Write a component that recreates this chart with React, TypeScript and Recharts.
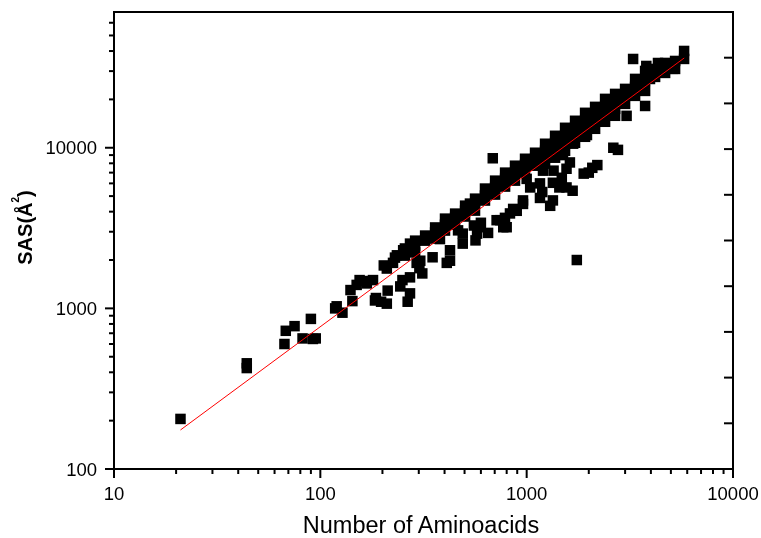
import { Scatter, ScatterChart, XAxis, YAxis } from "recharts";

const FONT = '"Liberation Sans", Arial, Helvetica, sans-serif';

// log ticks (major + minor)
const X_TICKS = [10, 20, 30, 40, 50, 60, 70, 80, 90, 100, 200, 300, 400, 500, 600, 700, 800, 900, 1000, 2000, 3000, 4000, 5000, 6000, 7000, 8000, 9000, 10000];
const X_MAJOR = [10, 100, 1000, 10000];
const Y_TICKS = [100, 200, 300, 400, 500, 600, 700, 800, 900, 1000, 2000, 3000, 4000, 5000, 6000, 7000, 8000, 9000, 10000, 20000, 30000, 40000, 50000, 60000];
const Y_MAJOR = [100, 1000, 10000];
// plain ticks on the top / right frame
const FRAME_TICKS = [1, 2, 3, 4, 5, 6, 7, 8, 9];

// [aminoacids, SAS]
const SMALL_PROTEINS: [number, number][] = [
  [21, 205], [44, 455], [44, 425], [67, 600], [68, 725], [75, 775], [82, 650], [90, 860], [92, 645], [95, 650],
  [118, 1000], [120, 1030], [128, 940], [140, 1300], [143, 1110], [150, 1400], [155, 1500], [161, 1480], [168, 1430], [180, 1500],
  [184, 1120], [186, 1160], [197, 1100], [210, 1070], [212, 1290], [203, 1850], [210, 1770], [225, 1920], [235, 2140], [244, 1370],
  [250, 1500], [252, 2300], [265, 1100], [272, 1240], [272, 1560], [293, 1920], [302, 1780], [312, 1650], [330, 2760],
];

const MAIN_BAND: [number, number][] = [
  [230, 2070], [257, 2360], [257, 2130], [272, 2530], [288, 2640], [288, 2460], [288, 2230], [322, 2840], [322, 2640],
  [360, 3190], [360, 2970], [360, 2720], [402, 3620], [402, 3320], [402, 3050], [450, 3890], [450, 3680], [450, 3320],
  [503, 4360], [503, 4060], [503, 3730], [531, 4490], [562, 4820], [562, 4490], [562, 4060], [628, 5570], [628, 5040], [628, 4690],
  [664, 5250], [703, 6240], [703, 5650], [703, 5110], [786, 7000], [786, 6420], [786, 5730], [830, 6600], [878, 7730], [878, 7000], [878, 6240],
  [982, 8540], [982, 7850], [982, 7000], [1040, 8100], [1098, 9310], [1098, 8540], [1098, 7730],
  [1228, 10590], [1228, 9580], [1228, 8670], [1228, 7960], [1300, 9900], [1350, 7200], [1373, 11870], [1373, 10740], [1373, 9580], [1373, 8670],
  [1500, 9000], [1535, 13310], [1535, 11870], [1535, 10590], [1535, 9580], [1620, 8100], [1625, 12400], [1680, 10600],
  [1716, 14720], [1716, 13310], [1716, 11870], [1716, 10740],
  [1919, 16500], [1919, 14720], [1919, 13120], [1919, 11700], [1960, 12000], [2030, 15300], [2146, 17970], [2146, 16260], [2146, 14720], [2146, 13120],
  [2399, 20150], [2399, 17970], [2399, 16260], [2399, 14510], [2540, 18800], [2683, 21640], [2683, 19580], [2683, 17470], [2683, 15810],
  [2999, 23250], [2999, 21040], [2999, 18760], [3170, 22100], [3353, 26830], [3353, 23930], [3353, 21040],
  [3749, 30080], [3749, 26070], [3749, 22590], [3960, 26800], [4192, 30950], [4192, 27610], [4688, 33730], [4688, 29230],
  [5240, 34700], [5240, 30950], [5794, 40050], [5794, 35720],
];

const LOWER_BAND: [number, number][] = [
  [305, 1980], [350, 2080], [380, 2700], [410, 1920], [425, 2300], [425, 1980], [465, 3060], [490, 2530], [490, 2920],
  [555, 3280], [565, 2650], [575, 2920], [590, 3200], [600, 3410], [650, 2950], [715, 3540], [745, 3540], [770, 3200],
  [785, 3660], [800, 3200], [830, 3900], [860, 4160], [895, 4050], [960, 4470], [960, 4700], [1000, 6400], [1040, 5660],
  [1160, 4870], [1160, 6000], [1190, 5300], [1200, 7200], [1300, 4350], [1340, 4700], [1340, 6050], [1440, 5660],
  [1480, 6500], [1560, 5660], [1560, 7400], [1670, 5400], [1890, 6900], [2000, 7000], [2080, 7500], [2200, 7800],
  [2630, 10000], [2770, 9700],
];

const OUTLIERS: [number, number][] = [
  [3280, 35700], [3800, 32300], [4330, 33700], [5100, 31000], [3750, 18200], [3050, 15800], [685, 8600], [1750, 2000],
];

// linear fit in log-log space, drawn between its end points
const FIT: [number, number][] = [[21, 175], [5800, 36200]];

const toXY = (rows: [number, number][]) => rows.map(([x, y]) => ({ x, y }));
const points = toXY([...SMALL_PROTEINS, ...MAIN_BAND, ...LOWER_BAND, ...OUTLIERS]);
const fitLine = toXY(FIT);

const AXIS_LINE = { stroke: "#000", strokeWidth: 2, strokeLinecap: "square" as const };
const MARK = 10.5;

function SquareMark({ cx, cy }: any) {
  return <rect x={cx - MARK / 2} y={cy - MARK / 2} width={MARK} height={MARK} fill="#000" />;
}

function BottomTick({ x, y, payload }: any) {
  const major = X_MAJOR.includes(payload.value);
  return (
    <g>
      <line x1={x} x2={x} y1={y} y2={y + (major ? 9 : 5)} stroke="#000" strokeWidth={2} />
      {major && (
        <text x={x} y={y + 31} textAnchor="middle" fontFamily={FONT} fontSize={18.5} fill="#000">
          {payload.value}
        </text>
      )}
    </g>
  );
}

function LeftTick({ x, y, payload }: any) {
  const major = Y_MAJOR.includes(payload.value);
  return (
    <g>
      <line x1={x} x2={x - (major ? 9 : 5)} y1={y} y2={y} stroke="#000" strokeWidth={2} />
      {major && (
        <text x={x - 17} y={y + 6.5} textAnchor="end" fontFamily={FONT} fontSize={18.5} fill="#000">
          {payload.value}
        </text>
      )}
    </g>
  );
}

function TopTick({ x, y }: any) {
  return <line x1={x} x2={x} y1={y} y2={y + 8} stroke="#000" strokeWidth={2} />;
}

function RightTick({ x, y }: any) {
  return <line x1={x} x2={x - 9} y1={y} y2={y} stroke="#000" strokeWidth={2} />;
}

const xTitle = () => (
  <text x={413} y={525} textAnchor="middle" fontFamily={FONT} fontSize={23.5} fill="#000">
    Number of Aminoacids
  </text>
);

const yTitle = () => (
  <text
    x={23.5}
    y={219.5}
    transform="rotate(-90, 23.5, 219.5)"
    textAnchor="middle"
    fontFamily={FONT}
    fontSize={20}
    fontWeight="bold"
    fill="#000"
  >
    SAS(Å
    <tspan dy={-13} fontSize={10}>2</tspan>
    <tspan dy={13}>)</tspan>
  </text>
);

export default function App() {
  return (
    <div style={{ position: "fixed", left: 8, top: 8 }}>
      <ScatterChart
        width={753}
        height={530}
        margin={{ top: 3, right: 27, bottom: 0, left: 0 }}
        style={{ overflow: "visible" }}
      >
        <XAxis
          type="number"
          dataKey="x"
          scale="log"
          domain={[10, 10000]}
          allowDataOverflow
          ticks={X_TICKS}
          interval={0}
          tick={BottomTick}
          tickLine={false}
          tickSize={0}
          tickMargin={0}
          height={69}
          axisLine={AXIS_LINE}
          label={xTitle}
        />
        <YAxis
          type="number"
          dataKey="y"
          scale="log"
          domain={[100, 70000]}
          allowDataOverflow
          ticks={Y_TICKS}
          interval={0}
          tick={LeftTick}
          tickLine={false}
          tickSize={0}
          tickMargin={0}
          width={106}
          axisLine={AXIS_LINE}
          label={yTitle}
        />
        <XAxis
          xAxisId="top"
          orientation="top"
          type="number"
          domain={[0, 10]}
          allowDataOverflow
          ticks={FRAME_TICKS}
          interval={0}
          tick={TopTick}
          tickLine={false}
          tickSize={0}
          tickMargin={0}
          height={1}
          axisLine={AXIS_LINE}
        />
        <YAxis
          yAxisId="right"
          orientation="right"
          type="number"
          domain={[0, 10]}
          allowDataOverflow
          ticks={FRAME_TICKS}
          interval={0}
          tick={RightTick}
          tickLine={false}
          tickSize={0}
          tickMargin={0}
          width={1}
          axisLine={AXIS_LINE}
        />
        <Scatter data={points} fill="#000" shape={SquareMark} isAnimationActive={false} />
        <Scatter
          data={fitLine}
          line={{ stroke: "#ff0000", strokeWidth: 1 }}
          shape={() => <g />}
          isAnimationActive={false}
        />
      </ScatterChart>
    </div>
  );
}
